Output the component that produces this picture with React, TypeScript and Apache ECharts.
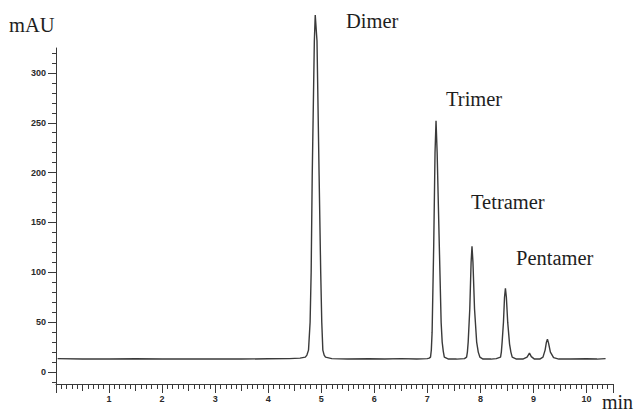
import React, { useEffect, useRef } from 'react';
import * as echarts from 'echarts';

// retention time (min)
const times: number[] = [
  0.03, 0.5, 1.0, 1.5, 2.0, 2.5, 3.0, 3.5, 4.0, 4.4, 4.6,
  4.7, 4.73, 4.76, 4.79, 4.81, 4.83, 4.87, 4.887, 4.92, 4.96, 4.99, 5.01, 5.03, 5.055, 5.08,
  5.2, 5.5, 5.9, 6.2, 6.5, 6.8, 7.0,
  7.035, 7.06, 7.075, 7.09, 7.12, 7.145, 7.164, 7.185, 7.226, 7.26, 7.28, 7.3, 7.32, 7.4, 7.55, 7.7,
  7.74, 7.755, 7.77, 7.8, 7.825, 7.842, 7.86, 7.89, 7.93, 7.96, 7.99, 8.05, 8.2, 8.3,
  8.38, 8.395, 8.41, 8.435, 8.455, 8.472, 8.49, 8.515, 8.55, 8.575, 8.6, 8.68, 8.8,
  8.88, 8.925, 8.96, 9.02, 9.12, 9.18, 9.22, 9.245, 9.264, 9.285, 9.32, 9.38, 9.48,
  9.7, 10.0, 10.2, 10.36,
];
// absorbance (mAU)
const mau: number[] = [
  13.5, 13, 13, 13.3, 13, 13, 13, 13, 13.3, 13.5, 14,
  15, 17, 22, 50, 100, 197, 332, 358, 332, 197, 100, 50, 22, 17, 15,
  13.5, 13, 13.3, 13, 13.5, 13, 13.5,
  14, 15, 22, 40, 126, 220, 252, 220, 126, 50, 30, 21, 15, 13, 13, 13.5,
  15, 20, 30, 63, 110, 126, 110, 63, 30, 20, 15, 13, 13, 13.5,
  15, 20, 30, 50, 75, 84, 75, 50, 28, 20, 15, 13, 13,
  15, 19, 15.5, 13, 13, 15, 22, 30, 33, 29, 20, 14.5, 13,
  13, 13.3, 13, 13.5,
];

const yMajorTicks: number[] = [0, 50, 100, 150, 200, 250, 300];
const yMinorTicks: number[] = [
  -10, 10, 20, 30, 40, 60, 70, 80, 90, 110, 120, 130, 140, 160, 170, 180, 190,
  210, 220, 230, 240, 260, 270, 280, 290, 310, 320,
];
const xMajorLabels: number[] = [1, 2, 3, 4, 5, 6, 7, 8, 9, 10];
const xHalfTicks: number[] = [0.5, 1.5, 2.5, 3.5, 4.5, 5.5, 6.5, 7.5, 8.5, 9.5, 10.5];
const peakNames: string[] = ['Dimer', 'Trimer', 'Tetramer', 'Pentamer'];
const peakLabelPos: number[][] = [
  [346, 21],
  [446, 99],
  [471, 202],
  [516, 258],
];

const AXIS_COLOR = '#3a3a3a';
const SERIF = '"Liberation Serif", "Times New Roman", serif';
const TICK_FONT = { fontFamily: '"Liberation Sans", Arial, sans-serif', fontSize: 9, fontWeight: 'bold' as const, color: '#2a2a2a' };

export default function App() {
  const ref = useRef<HTMLDivElement>(null);
  useEffect(() => {
    const chart = echarts.init(ref.current!, null, { renderer: 'svg' });
    const data = times.map((t, i) => [t, mau[i]]);
    chart.setOption({
      animation: false,
      backgroundColor: '#ffffff',
      grid: { left: 56, right: 23, top: 48, bottom: 30 },
      xAxis: [
        {
          type: 'value', min: 0, max: 10.5, interval: 1, position: 'bottom',
          axisLine: { show: true, onZero: false, lineStyle: { color: AXIS_COLOR, width: 1 } },
          axisTick: { show: true, length: 9, lineStyle: { color: AXIS_COLOR } },
          minorTick: { show: true, splitNumber: 10, length: 5, lineStyle: { color: AXIS_COLOR } },
          axisLabel: { ...TICK_FONT, margin: 10, customValues: xMajorLabels },
          splitLine: { show: false },
        },
        {
          type: 'value', min: 0, max: 10.5, position: 'bottom', offset: 0,
          axisLine: { show: false, onZero: false },
          axisTick: { show: true, length: 7, customValues: xHalfTicks, lineStyle: { color: AXIS_COLOR } },
          axisLabel: { show: false },
          splitLine: { show: false },
        },
      ],
      yAxis: [
        {
          type: 'value', min: -12, max: 325, position: 'left',
          axisLine: { show: true, onZero: false, lineStyle: { color: AXIS_COLOR, width: 1 } },
          axisTick: { show: true, length: 8, customValues: yMajorTicks, lineStyle: { color: AXIS_COLOR } },
          axisLabel: { ...TICK_FONT, margin: 10, customValues: yMajorTicks },
          splitLine: { show: false },
        },
        {
          type: 'value', min: -12, max: 325, position: 'left', offset: 0,
          axisLine: { show: false, onZero: false },
          axisTick: { show: true, length: 4, customValues: yMinorTicks, lineStyle: { color: AXIS_COLOR } },
          axisLabel: { show: false },
          splitLine: { show: false },
        },
      ],
      series: [
        {
          type: 'line',
          xAxisIndex: 0,
          yAxisIndex: 0,
          data,
          symbol: 'none',
          showSymbol: false,
          clip: false,
          lineStyle: { color: '#3a3a3a', width: 1.4 },
        },
      ],
      graphic: [
        ...peakNames.map((name, i) => ({
          type: 'text',
          x: peakLabelPos[i][0],
          y: peakLabelPos[i][1],
          style: { text: name, font: `20.5px ${SERIF}`, fill: '#1e1e1e', align: 'left', verticalAlign: 'middle' },
        })),
        {
          type: 'text', x: 9, y: 25,
          style: { text: 'mAU', font: `20.5px ${SERIF}`, fill: '#1e1e1e', align: 'left', verticalAlign: 'middle' },
        },
        {
          type: 'text', x: 602, y: 402,
          style: { text: 'min', font: `20px ${SERIF}`, fill: '#1e1e1e', align: 'left', verticalAlign: 'middle' },
        },
      ],
    });
    return () => chart.dispose();
  }, []);
  return (
    <div
      ref={ref}
      style={{ position: 'fixed', left: 0, top: 0, width: 636, height: 414, background: '#fff' }}
    />
  );
}
